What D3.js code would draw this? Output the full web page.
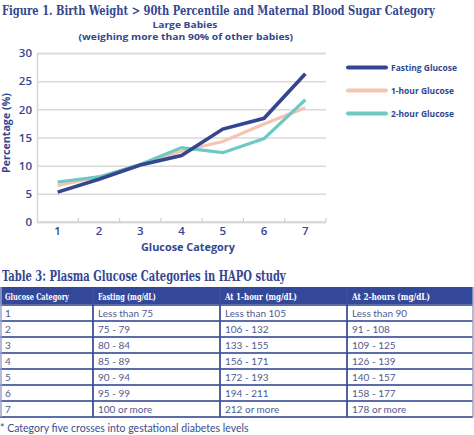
<!DOCTYPE html>
<html><head><meta charset="utf-8">
<script src="https://cdn.jsdelivr.net/npm/d3@7"></script>
<style>
html,body{margin:0;padding:0;background:#fff;}
svg{display:block;}
</style></head>
<body>
<script>
// ---- data ----
const categories = [1, 2, 3, 4, 5, 6, 7];
const fastingGlucose = [5.3, 7.6, 10.1, 11.8, 16.5, 18.4, 26.3];
const oneHourGlucose = [6.5, 8.0, 10.1, 12.6, 14.3, 17.4, 20.3];
const twoHourGlucose = [7.1, 8.0, 10.2, 13.2, 12.3, 14.8, 21.7];
const seriesNames = ["Fasting Glucose", "1-hour Glucose", "2-hour Glucose"];
const yTicks = [0, 5, 10, 15, 20, 25, 30];

const tableHeaders = ["Glucose Category", "Fasting (mg/dL)", "At 1-hour (mg/dL)", "At 2-hours (mg/dL)"];
const tableCategories = ["1", "2", "3", "4", "5", "6", "7"];
const fastingRanges = ["Less than 75", "75 - 79", "80 - 84", "85 - 89", "90 - 94", "95 - 99", "100 or more"];
const oneHourRanges = ["Less than 105", "106 - 132", "133 - 155", "156 - 171", "172 - 193", "194 - 211", "212 or more"];
const twoHourRanges = ["Less than 90", "91 - 108", "109 - 125", "126 - 139", "140 - 157", "158 - 177", "178 or more"];

const navy = "#34478f";
const colors = ["#34468f", "#f6c4b2", "#6ccac2"];
const slab = "'DejaVu Serif Condensed','DejaVu Serif',serif";
const sans = "'Open Sans',sans-serif";
const bodySans = "Lato,'Open Sans',sans-serif";

const W = 474, H = 435;
const svg = d3.select("body").append("svg").attr("width", W).attr("height", H);

// place a text and squeeze it horizontally to a target width
function fitText(parent, str, x, y, width, anchor, attrs) {
  const t = parent.append("text").attr("x", 0).attr("y", 0).text(str);
  Object.entries(attrs).forEach(([k, v]) => t.attr(k, v));
  const len = t.node().getComputedTextLength();
  const s = width / len;
  const x0 = anchor === "middle" ? x - width / 2 : x;
  t.attr("transform", `translate(${x0},${y}) scale(${s},1)`);
  return t;
}

// ---- titles ----
fitText(svg, "Figure 1. Birth Weight > 90th Percentile and Maternal Blood Sugar Category", 2, 14.5, 433, "start",
  {"font-family": slab, "font-weight": "bold", "font-size": 13, "fill": navy});
fitText(svg, "Large Babies", 185, 27.5, 65, "middle",
  {"font-family": sans, "font-weight": "bold", "font-size": 9, "fill": navy});
fitText(svg, "(weighing more than 90% of other babies)", 186, 40, 215, "middle",
  {"font-family": sans, "font-weight": "bold", "font-size": 9, "fill": navy});

// ---- scales ----
const plot = {left: 37, right: 326, top: 53, bottom: 222};
const xBand = d3.scaleBand().domain(categories).range([plot.left, plot.right]).padding(0);
const xc = d => xBand(d) + xBand.bandwidth() / 2;
const y = d3.scaleLinear().domain([0, 30]).range([plot.bottom, plot.top]);

// grid + y axis
const yAxis = svg.append("g").attr("transform", `translate(${plot.left},0)`)
  .call(d3.axisLeft(y).tickValues(yTicks).tickSize(-(plot.right - plot.left)).tickPadding(5));
yAxis.select(".domain").attr("stroke", "#d6d6d6").attr("stroke-width", 1.5);
yAxis.selectAll(".tick line").attr("stroke", "#dadada").attr("stroke-width", 1.5);
yAxis.selectAll(".tick text").attr("font-family", sans).attr("font-weight", 600)
  .attr("font-size", 11.5).attr("fill", navy);

// x axis
const xAxis = svg.append("g").attr("transform", `translate(0,${plot.bottom})`)
  .call(d3.axisBottom(xBand).tickSize(0).tickPadding(5));
xAxis.select(".domain").remove();
xAxis.selectAll(".tick text").attr("font-family", sans).attr("font-weight", 600)
  .attr("font-size", 11.5).attr("fill", navy);
svg.append("line").attr("x1", plot.left).attr("x2", plot.right)
  .attr("y1", plot.bottom).attr("y2", plot.bottom).attr("stroke", "#d6d6d6").attr("stroke-width", 1.5);
const bounds = categories.map(c => xBand(c) + xBand.bandwidth());
svg.append("g").selectAll("line").data(bounds).join("line")
  .attr("x1", d => d).attr("x2", d => d).attr("y1", plot.bottom - 4).attr("y2", plot.bottom)
  .attr("stroke", "#d0d0d0").attr("stroke-width", 1.2);

fitText(svg, "Glucose Category", 188, 251, 94, "middle",
  {"font-family": sans, "font-weight": "bold", "font-size": 10.5, "fill": navy});
const yt = svg.append("g").attr("transform", "translate(10,133) rotate(-90)");
fitText(yt, "Percentage (%)", 0, 0, 80, "middle",
  {"font-family": sans, "font-weight": "bold", "font-size": 10.5, "fill": navy});

// lines
const seriesData = [fastingGlucose, oneHourGlucose, twoHourGlucose];
const line = d3.line().x((d, i) => xc(categories[i])).y(d => y(d));
const drawOrder = [1, 2, 0];
drawOrder.forEach(si => {
  svg.append("path").datum(seriesData[si]).attr("d", line)
    .attr("fill", "none").attr("stroke", colors[si])
    .attr("stroke-width", si === 0 ? 3.6 : 3.2).attr("stroke-linejoin", "miter");
});

// legend
const lg = svg.append("g");
const legendWidths = [66, 63, 63];
seriesNames.forEach((n, i) => {
  const ly = 67.5 + i * 23;
  lg.append("line").attr("x1", 348).attr("x2", 386).attr("y1", ly).attr("y2", ly)
    .attr("stroke", colors[i]).attr("stroke-width", 4).attr("stroke-linecap", "round");
  fitText(lg, n, 391, ly + 3.5, legendWidths[i], "start",
    {"font-family": sans, "font-weight": "bold", "font-size": 9.5, "fill": navy});
});

// ---- table ----
fitText(svg, "Table 3: Plasma Glucose Categories in HAPO study", 2, 281, 284, "start",
  {"font-family": slab, "font-weight": "bold", "font-size": 14, "fill": navy});

const colX = [0, 93, 220, 347, 473];
const tTop = 287, headH = 18, rowH = 16;
const rows = tableCategories.map((c, i) => [c, fastingRanges[i], oneHourRanges[i], twoHourRanges[i]]);

svg.append("rect").attr("x", colX[0]).attr("y", tTop).attr("width", colX[4] - colX[0]).attr("height", headH)
  .attr("fill", "#34489a");
const headerWidths = [64, 58, 72, 78];
tableHeaders.forEach((h, j) => {
  fitText(svg, h, colX[j] + 5, tTop + 12.5, headerWidths[j], "start",
    {"font-family": slab, "font-weight": "bold", "font-size": 9.5, "fill": "#fff"});
});
const body = svg.append("g");
rows.forEach((r, i) => {
  const ry = tTop + headH + i * rowH;
  r.forEach((v, j) => {
    body.append("text").attr("x", colX[j] + 5).attr("y", ry + 11.5)
      .attr("font-family", bodySans).attr("font-size", 10).attr("fill", "#4f5b8e").text(v);
  });
});
// horizontal borders
const hLines = d3.range(rows.length + 1).map(i => tTop + headH + i * rowH);
body.selectAll("line.h").data(hLines).join("line").attr("class", "h")
  .attr("x1", colX[0]).attr("x2", colX[4]).attr("y1", d => d).attr("y2", d => d)
  .attr("stroke", "#5d6cab").attr("stroke-width", 1.8);
// vertical borders
colX.slice(1, 4).forEach(x => {
  svg.append("line").attr("x1", x).attr("x2", x).attr("y1", tTop + 2).attr("y2", tTop + headH + rows.length * rowH)
    .attr("stroke", "#3f4f98").attr("stroke-width", 1.8);
});
[colX[0] + 1, colX[4]].forEach(x => {
  svg.append("line").attr("x1", x).attr("x2", x).attr("y1", tTop).attr("y2", tTop + headH + rows.length * rowH)
    .attr("stroke", "#9aa4cc").attr("stroke-width", 1.5);
});

svg.append("text").attr("x", 0).attr("y", 432)
  .attr("font-family", bodySans).attr("font-size", 10.5).attr("fill", "#3e4c8c")
  .text("* Category five crosses into gestational diabetes levels");
</script>
</body></html>
